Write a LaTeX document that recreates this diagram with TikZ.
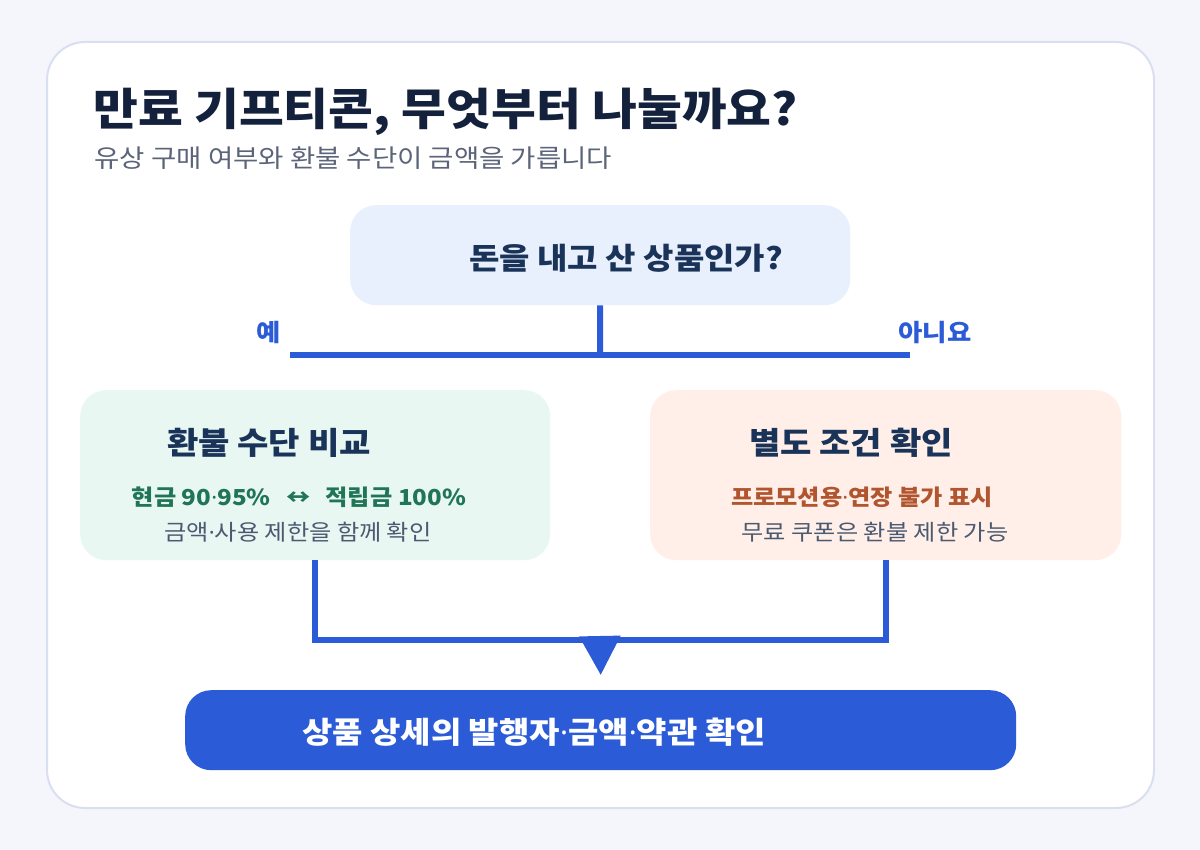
\documentclass[tikz,border=0pt]{standalone}
\usepackage{fontspec}
\setmainfont{Noto Sans CJK KR}[FakeStretch=1.1]
\newfontfamily\latinfont{Noto Sans}
\usepackage{tikz}
\usetikzlibrary{calc,arrows.meta}

\definecolor{pagebg}{HTML}{F5F6FB}
\definecolor{cardline}{HTML}{D9DFF0}
\definecolor{ink}{HTML}{14213D}
\definecolor{boxink}{HTML}{1A3358}
\definecolor{muted}{HTML}{5B6478}
\definecolor{slate}{HTML}{4B5A70}
\definecolor{flowblue}{HTML}{2B5BD7}
\definecolor{askfill}{HTML}{E8EFFD}
\definecolor{feefill}{HTML}{E8F7F2}
\definecolor{feeink}{HTML}{1F7556}
\definecolor{promofill}{HTML}{FFEFE8}
\definecolor{promoink}{HTML}{B1552F}

\newcommand{\fs}[1]{\fontsize{#1}{#1}\selectfont}
\newcommand{\md}{{\latinfont ·}}

\begin{document}
\begin{tikzpicture}[
  x=1pt, y=-1pt,
  panel/.style={rounded corners=26pt, inner sep=0pt, anchor=north west},
  flow/.style={draw=flowblue, line width=6pt},
  answer/.style={text=flowblue, font=\fs{24}\bfseries},
  boxtitle/.style={text=boxink, font=\fs{31}\bfseries},
  note/.style={text=slate, font=\fs{22}}
]
\fill[pagebg] (0,0) rectangle (1200,850);
\draw[fill=white, draw=cardline, line width=2pt, rounded corners=38pt] (47,42) rectangle (1154,808);

\node[anchor=base west, text=ink, font=\fs{44.3}\bfseries] (title) at (90,126) {만료 기프티콘, 무엇부터 나눌까요?};
\node[anchor=base west, text=muted, font=\fs{25}] (subtitle) at (91,168) {유상 구매 여부와 환불 수단이 금액을 가릅니다};

% boxes
\node[panel, fill=askfill, minimum width=500pt, minimum height=100pt] (ask) at (350,205) {};
\node[text=boxink, font=\fs{30}\bfseries] (asktext) at (626,258) {돈을 내고 산 상품인가?};

\node[panel, fill=feefill, minimum width=470pt, minimum height=170pt] (fee) at (80,390) {};
\node[boxtitle] (feetitle) at (269,443) {환불 수단 비교};
\node[text=feeink, font=\fs{22}\bfseries] (feerate) at (299,497) {현금 90\md95\%\hspace{0.7em}↔\hspace{0.7em}적립금 100\%};
\node[note] (feenote) at (298,532) {금액\md 사용 제한을 함께 확인};

\node[panel, fill=promofill, minimum width=471pt, minimum height=170pt] (promo) at (650,390) {};
\node[boxtitle] (promotitle) at (851,443) {별도 조건 확인};
\node[text=promoink, font=\fs{22}\bfseries] (promorule) at (862,497) {프로모션용\md 연장 불가 표시};
\node[note] (promonote) at (875,532) {무료 쿠폰은 환불 제한 가능};

\node[panel, fill=flowblue, minimum width=831pt, minimum height=80pt] (done) at (185,690) {};
\node[text=white, font=\fs{30}\bfseries] (donetext) at (534,732) {상품 상세의 발행자\md 금액\md 약관 확인};

% split
\coordinate (split) at (600,355);
\coordinate (yesend) at (290,355);
\coordinate (noend) at (910,355);
\draw[flow] (ask.south) -- (split);
\draw[flow] (split) -- (yesend);
\draw[flow] (split) -- (noend);
\node[answer] (yes) at (269,333) {예};
\node[answer] (no) at (935,333) {아니요};

% merge
\coordinate (join) at (600,640);
\draw[flow] (fee.south) -- (fee.south |- join) -- (promo.south |- join) -- (promo.south);
\draw[flow, -{Triangle[width=40pt,length=39pt]}] (join) -- ([yshift=15pt]done.north);
\end{tikzpicture}
\end{document}
